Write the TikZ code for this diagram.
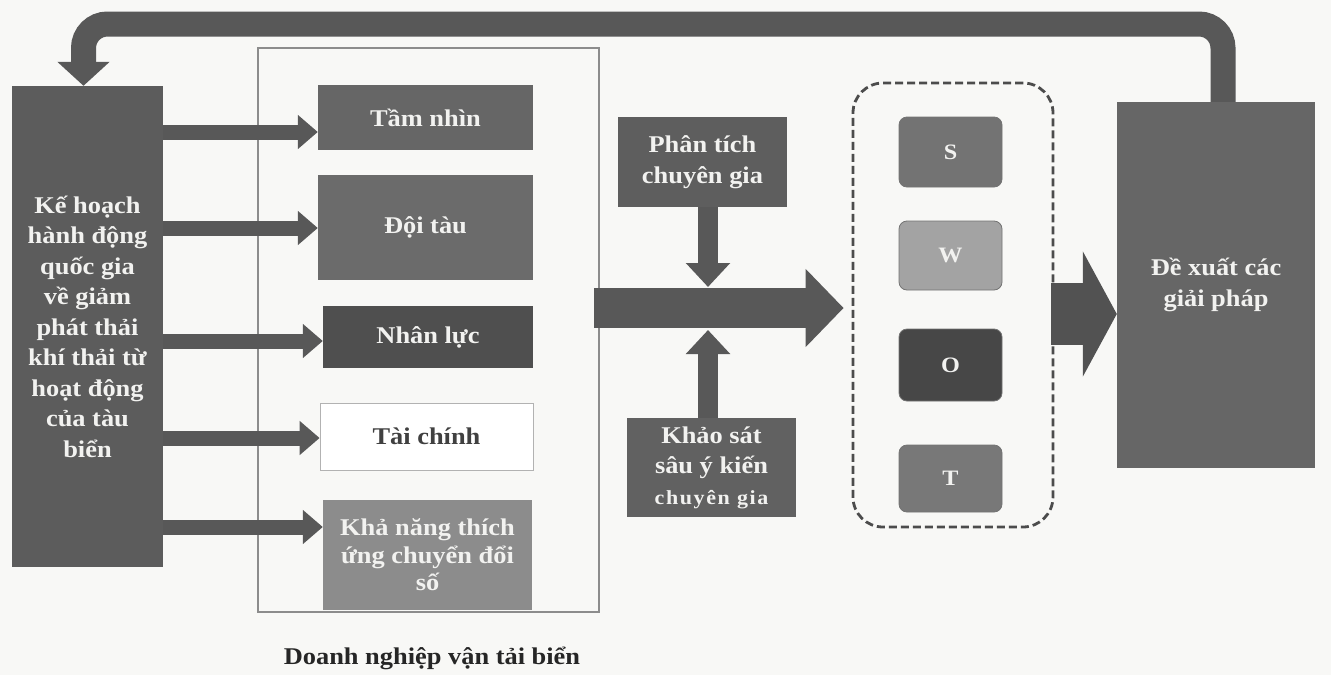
\documentclass[tikz,border=0pt]{standalone}
\usepackage{fontspec}
\setmainfont{Liberation Serif}[FakeStretch=1.1]
\usetikzlibrary{arrows.meta}
\definecolor{bgc}{HTML}{F8F8F6}
\definecolor{arrc}{HTML}{585858}
\definecolor{txtw}{HTML}{F2F2F0}
\begin{document}
\begin{tikzpicture}[x=1pt,y=-1pt,
  box/.style={rectangle, inner sep=0pt, align=center, text=txtw,
    font=\bfseries\fontsize{24}{30.5}\selectfont},
  swot/.style={box, rounded corners=8pt, draw=black!55, line width=0.8pt,
    minimum width=103pt, font=\bfseries\fontsize{22}{26}\selectfont},
  smallarrow/.style={draw=arrc, line width=15pt, -{Triangle[length=20pt,width=33pt]}},
  bigarrow/.style={draw=arrc, line width=40pt, -{Triangle[length=38pt,width=76pt]}},
  vertarrow/.style={draw=arrc, line width=20pt, -{Triangle[length=24pt,width=43pt]}},
  hugearrow/.style={draw=black!68, line width=62pt, -{Triangle[length=34pt,width=124pt]}},
  backarrow/.style={draw=arrc, line width=25pt, rounded corners=24pt, -{Triangle[length=24pt,width=51pt]}}]
\useasboundingbox (0,0) rectangle (1331,675);
\fill[bgc] (0,0) rectangle (1331,675);

% frame of the enterprise block
\node[draw=black!45, line width=2.5pt, minimum width=341pt, minimum height=564pt, inner sep=0pt] (F) at (428.5,330) {};
\node[font=\bfseries\fontsize{24}{28}\selectfont, text=black!85] (cap) at (432,658) {Doanh nghiệp vận tải biển};

% left box
\node[box, fill=black!64, minimum width=151pt, minimum height=481pt] (L) at (87.5,326.5)
  {Kế hoạch\\hành động\\quốc gia\\về giảm\\phát thải\\khí thải từ\\hoạt động\\của tàu\\biển};

% inner boxes
\node[box, fill=black!60, minimum width=215pt, minimum height=65pt] (T1) at (425.5,117.5) {Tầm nhìn};
\node[box, fill=black!58, minimum width=215pt, minimum height=105pt] (T2) at (425.5,227.5) {Đội tàu};
\node[box, fill=black!69, minimum width=210pt, minimum height=62pt] (T3) at (428,337) {Nhân lực};
\node[box, fill=white, draw=black!30, line width=0.8pt, text=black!75, minimum width=213pt, minimum height=67pt] (T4) at (426.5,436.5) {Tài chính};
\node[box, fill=black!45, minimum width=209pt, minimum height=110pt, font=\bfseries\fontsize{24}{27.5}\selectfont] (T5) at (427.5,555) {Khả năng thích\\ứng chuyển đổi\\số};

% expert boxes
\node[box, fill=black!63, minimum width=169pt, minimum height=90pt] (PT) at (702.5,162) {Phân tích\\chuyên gia};
\node[box, fill=black!62, minimum width=169pt, minimum height=99pt] (KS) at (711.5,467.5)
  {Khảo sát\\sâu ý kiến\\{\fontsize{20}{26}\selectfont\addfontfeature{LetterSpace=8}chuyên gia}};

% SWOT
\node[draw=black!70, line width=2.8pt, dash pattern=on 8pt off 4pt, rounded corners=30pt,
  minimum width=200pt, minimum height=444pt, inner sep=0pt] (D) at (953,305) {};
\node[swot, fill=black!55, minimum height=70pt] (S) at (950.5,152) {S};
\node[swot, fill=black!36, minimum height=69pt] (W) at (950.5,255.5) {W};
\node[swot, fill=black!72, minimum height=72pt] (O) at (950.5,365) {O};
\node[swot, fill=black!53, minimum height=67pt] (T) at (950.5,478.5) {T};

% result box
\node[box, fill=black!60, minimum width=198pt, minimum height=366pt] (R) at (1216,285) {Đề xuất các\\giải pháp};

% arrows from the plan to the enterprise factors
\draw[smallarrow] (L.east |- 0,132) -- (T1.west |- 0,132);
\draw[smallarrow] (L.east |- 0,228) -- (T2.west |- 0,228);
\draw[smallarrow] (L.east |- 0,341) -- (T3.west |- 0,341);
\draw[smallarrow] (L.east |- 0,438) -- (T4.west |- 0,438);
\draw[smallarrow] (L.east |- 0,527) -- (T5.west |- 0,527);

% main flow
\coordinate (mid) at (708,308);
\draw[bigarrow] ([xshift=-6pt]F.east |- 0,308) -- ([xshift=-8pt]D.west |- 0,308);
\draw[vertarrow] (PT.south -| mid) -- ([yshift=21pt]mid);
\draw[vertarrow] (KS.north -| mid) -- ([yshift=-22pt]mid);
\draw[hugearrow] ([xshift=-3pt]D.east |- 0,314) -- (R.west |- 0,314);

% feedback arrow
\coordinate (c1) at (1223,24);
\coordinate (c2) at (83.5,24);
\draw[backarrow] (R.north -| c1) -- (c1) -- (c2) -- (L.north -| c2);
\end{tikzpicture}
\end{document}
